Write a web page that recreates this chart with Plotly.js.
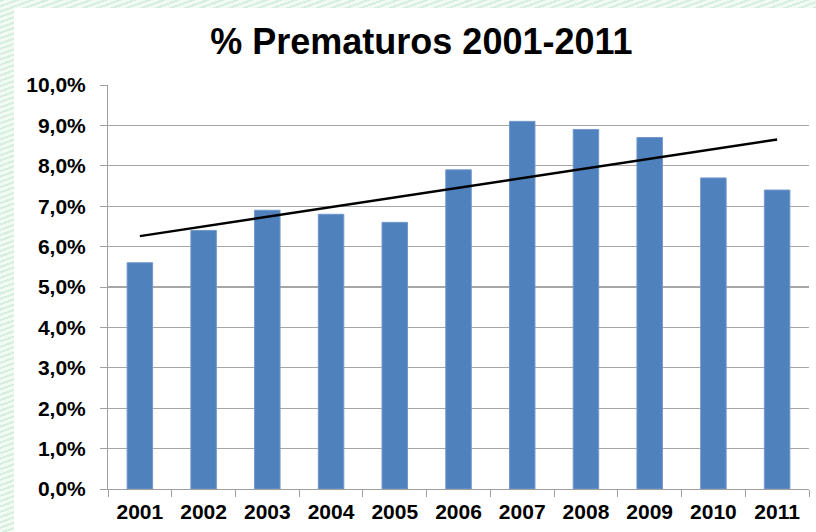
<!DOCTYPE html>
<html>
<head>
<meta charset="utf-8">
<script src="https://cdn.plot.ly/plotly-3.0.1.min.js"></script>
<style>
  html, body { margin:0; padding:0; }
  body {
    width:816px; height:532px; overflow:hidden; position:relative;
    background: repeating-linear-gradient(160deg, #d6eedf 0px, #d6eedf 2px, #f2faf4 2px, #f2faf4 5px);
  }
  #chart { position:absolute; left:14px; top:8px; width:802px; height:524px; background:#fff; }
</style>
</head>
<body>
<div id="chart"></div>
<script>
const years = ['2001','2002','2003','2004','2005','2006','2007','2008','2009','2010','2011'];
const premature = [5.6, 6.4, 6.9, 6.8, 6.6, 7.9, 9.1, 8.9, 8.7, 7.7, 7.4];
const yTicks = [0,1,2,3,4,5,6,7,8,9,10];
const yTickText = ['0,0%','1,0%','2,0%','3,0%','4,0%','5,0%','6,0%','7,0%','8,0%','9,0%','10,0%'];

// Linear trend line (least squares) derived from the data, as in the original spreadsheet chart
const n = premature.length;
const xIdx = premature.map((_, i) => i);
const mx = xIdx.reduce((a,b)=>a+b,0)/n;
const my = premature.reduce((a,b)=>a+b,0)/n;
let sxy = 0, sxx = 0;
for (let i = 0; i < n; i++) { sxy += (xIdx[i]-mx)*(premature[i]-my); sxx += (xIdx[i]-mx)**2; }
const slope = sxy/sxx, icpt = my - slope*mx;
const trendX = [years[0], years[n-1]];
const trendY = [icpt, icpt + slope*(n-1)];

const font = {family:'"Liberation Sans", Arial, sans-serif', color:'#000'};

const data = [
  {type:'bar', x:years, y:premature, marker:{color:'#4F81BD', line:{color:'#7398c9', width:1}}, hoverinfo:'x+y'},
  {type:'scatter', mode:'lines', x:trendX, y:trendY, line:{color:'#000', width:2.5}, hoverinfo:'skip'}
];

const layout = {
  width:802, height:524,
  margin:{l:94, r:7, t:77, b:43},
  paper_bgcolor:'#ffffff', plot_bgcolor:'#ffffff',
  showlegend:false,
  bargap:0.6,
  font:font,
  title:{text:'<b>% Prematuros 2001-2011</b>', font:{family:font.family, size:36, color:'#000'},
         xref:'container', x:0.508, xanchor:'center', yref:'container', y:0.937, yanchor:'middle'},
  xaxis:{type:'category', tickson:'boundaries', ticks:'outside', ticklen:7, tickcolor:'#a0a0a0', tickwidth:1,
         showline:true, linecolor:'#a0a0a0', linewidth:1, showgrid:false, ticklabelstandoff:4,
         tickfont:{family:font.family, size:21, color:'#000', weight:'bold'}},
  yaxis:{range:[0,10], tickvals:yTicks, ticktext:yTickText, ticks:'outside', ticklen:7,
         tickcolor:'#a0a0a0', tickwidth:1, showline:true, linecolor:'#a0a0a0', linewidth:1,
         showgrid:true, gridcolor:'#a6a6a6', gridwidth:1.2, zeroline:false, ticklabelstandoff:10,
         tickfont:{family:font.family, size:21, color:'#000', weight:'bold'}}
};

Plotly.newPlot('chart', data, layout, {displayModeBar:false, staticPlot:true});
</script>
</body>
</html>
